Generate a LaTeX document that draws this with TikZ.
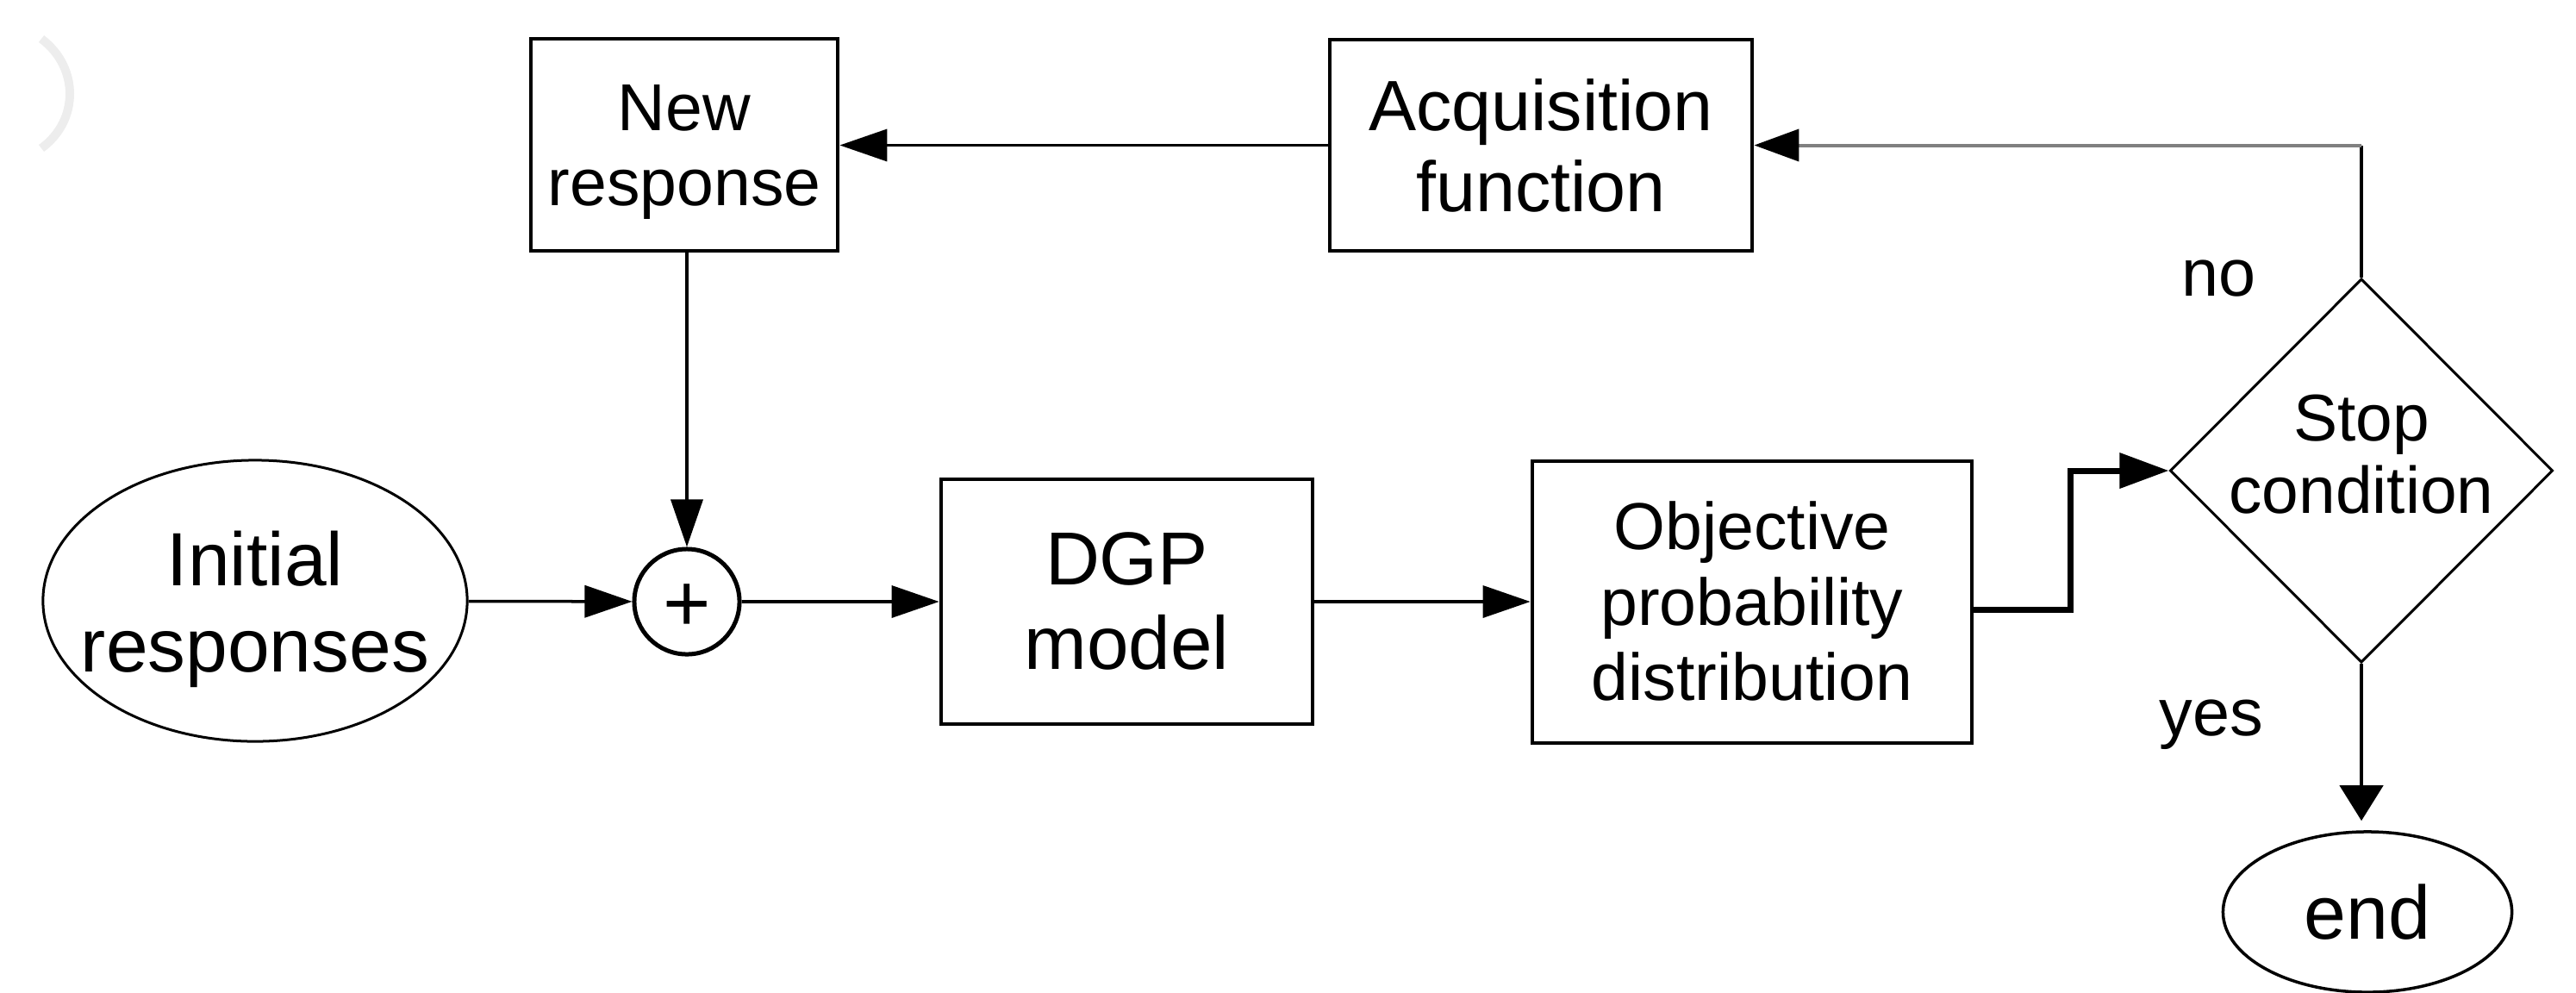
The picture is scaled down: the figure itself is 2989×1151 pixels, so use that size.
\documentclass[tikz,border=0pt]{standalone}
\usepackage{fontspec}
\setmainfont{Liberation Sans}
\usetikzlibrary{arrows.meta,shapes.geometric}
\begin{document}
\begin{tikzpicture}[x=0.01cm,y=-0.01cm,
  boxshape/.style={draw,line width=0.045cm,inner sep=0pt,rectangle},
  txt/.style={inner sep=0pt,align=center},
  conn/.style={line width=0.035cm,-{Triangle[length=0.55cm,width=0.37cm]}},
]
\useasboundingbox (0,0) rectangle (2989,1151);
\draw[gray!14,line width=0.1cm] (48,45) .. controls (92,78) and (92,140) .. (48,172);

\node[boxshape,minimum width=3.56cm,minimum height=2.46cm] (nr) at (794,168) {};
\node[txt,font=\fontsize{21.9}{25}\selectfont] (nrT) at (794,176.5) {New\\response};

\node[boxshape,minimum width=4.90cm,minimum height=2.45cm] (acq) at (1788,168.5) {};
\node[txt,font=\fontsize{23.5}{26.7}\selectfont] (acqT) at (1788,169) {Acquisition\\function};

\node[draw,ellipse,line width=0.03cm,inner sep=0pt,minimum width=4.92cm,minimum height=3.26cm] (init) at (296,697) {};
\node[txt,font=\fontsize{24.9}{28.5}\selectfont] (initT) at (296,707) {Initial\\responses};

\node[draw,circle,line width=0.05cm,inner sep=0pt,minimum size=1.22cm] (sum) at (797,698) {};
\node[txt,font=\fontsize{27}{27}\selectfont] (sumT) at (797,705) {+};

\node[boxshape,minimum width=4.31cm,minimum height=2.84cm] (dgp) at (1307.5,698) {};
\node[txt,font=\fontsize{24.8}{27.9}\selectfont] (dgpT) at (1307.5,697.5) {DGP\\model};

\node[boxshape,minimum width=5.10cm,minimum height=3.27cm] (obj) at (2033,698.5) {};
\node[txt,font=\fontsize{21.9}{25}\selectfont] (objT) at (2033,697.5) {Objective\\probability\\distribution};

\node[draw,diamond,line width=0.03cm,inner sep=0pt,minimum width=4.44cm,minimum height=4.45cm] (stop) at (2740,546) {};
\node[txt,font=\fontsize{21.8}{23.9}\selectfont] (stopT) at (2740,527) {Stop\\condition};

\node[draw,ellipse,line width=0.035cm,inner sep=0pt,minimum width=3.35cm,minimum height=1.86cm] (endnode) at (2747,1058) {};
\node[txt,font=\fontsize{25}{25}\selectfont] (endT) at (2747,1058) {end};

\node[txt,anchor=base,font=\fontsize{22}{22}\selectfont] (no) at (2574,343) {no};
\node[txt,anchor=base,font=\fontsize{22}{22}\selectfont] (yes) at (2566,853) {yes};

\draw[conn] (init) -- (sum);
\draw[conn] (sum.north |- nr.south) -- (sum.north);
\draw[conn] (sum) -- (dgp);
\draw[conn] (dgp.east) -- (dgp.east -| obj.west);
\draw[conn] (acq.west) -- (acq.west -| nr.east);
\draw[line width=0.07cm,-{Triangle[length=0.57cm,width=0.40cm]}] ([yshift=-0.09cm]obj.east) -- ++(112,0) |- (stop.west);
\coordinate (turn) at (stop.north |- acq.east);
\draw[line width=0.035cm] (stop.north) -- (turn);
\draw[line width=0.04cm,color=gray,-{Triangle[length=0.52cm,width=0.37cm,color=black]}] (turn) -- (acq.east);
\draw[line width=0.045cm,-{Triangle[length=0.41cm,width=0.50cm]},shorten >=0.11cm] (stop.south) -- (stop.south |- endnode.north);
\end{tikzpicture}
\end{document}
